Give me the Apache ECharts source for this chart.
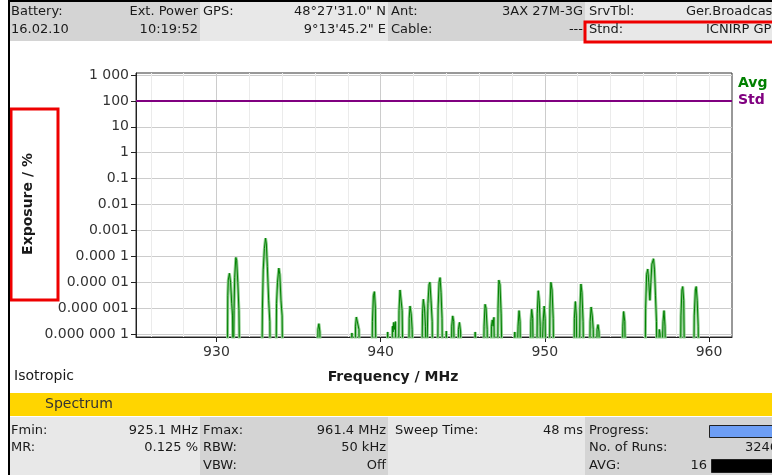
<!DOCTYPE html>
<html><head><meta charset="utf-8">
<script src="https://cdn.jsdelivr.net/npm/echarts@6/dist/echarts.min.js"></script>
<style>html,body{margin:0;padding:0;background:#fff}#c{width:772px;height:475px}</style>
</head><body><div id="c"></div>
<script>
// ---------- data ----------
const xMin = 925.1, xMax = 961.4;
const xMajorTicks = [930, 940, 950, 960];
const xMinorTicks = [926, 928, 932, 934, 936, 938, 942, 944, 946, 948, 952, 954, 956, 958, 960];
const yTickValues = [1e-7, 1e-6, 1e-5, 1e-4, 1e-3, 1e-2, 1e-1, 1, 10, 100, 1000];
const yTickLabels = ['0.000 000 1', '0.000 001', '0.000 01', '0.000 1', '0.001', '0.01', '0.1', '1', '10', '100', '1 000'];
const stdLevel = 100;
const B = 1e-9; // trace below display floor
const avgFreq = [925.1,
  930.66,930.69,930.72,930.79,930.86,930.93,930.98,931.02,931.07,931.11,931.18,931.23,931.30,931.37,931.43,
  932.76,932.80,932.85,932.92,932.99,933.04,933.10,933.18,933.25,933.29,
  933.62,933.66,933.72,933.80,933.86,933.93,934.00,934.04,
  936.15,936.18,936.24,936.30,936.33,
  938.22,938.25,938.28,
  938.44,938.47,938.52,938.60,938.68,938.71,
  939.46,939.50,939.56,939.62,939.68,939.73,
  940.40,940.43,940.46,
  940.68,940.72,940.76,940.80,940.85,940.90,940.95,
  941.08,941.12,941.18,941.24,941.31,941.37,
  941.70,941.74,941.79,941.86,941.92,941.98,
  942.50,942.55,942.60,942.67,942.73,942.78,
  942.84,942.88,942.95,943.00,943.07,943.14,943.17,
  943.46,943.50,943.56,943.62,943.68,943.74,943.78,
  943.97,944.00,944.03,
  944.30,944.33,944.39,944.45,944.51,
  944.70,944.74,944.80,944.87,944.91,
  945.73,945.76,945.79,
  946.26,946.30,946.36,946.42,946.49,946.52,
  946.71,946.75,946.80,946.85,946.90,946.95,
  947.12,947.15,947.20,947.27,947.34,947.42,
  948.14,948.17,948.24,948.27,
  948.33,948.37,948.43,948.49,948.54,
  949.12,949.15,949.20,949.26,949.32,
  949.50,949.54,949.60,949.66,949.72,949.75,
  949.86,949.90,949.96,950.02,950.07,
  950.27,950.31,950.37,950.44,950.51,950.56,
  951.77,951.80,951.86,951.92,951.97,
  952.10,952.14,952.20,952.26,952.33,952.38,
  952.72,952.76,952.82,952.89,952.95,952.99,
  953.14,953.18,953.24,953.30,953.34,
  954.71,954.75,954.80,954.87,954.93,
  956.10,956.14,956.20,956.27,956.33,956.40,956.46,956.52,956.62,956.68,956.74,956.80,956.84,
  956.93,956.97,957.02,957.08,957.15,957.20,957.26,957.32,957.37,
  958.25,958.29,958.35,958.40,958.46,958.52,
  959.06,959.10,959.17,959.22,959.28,959.34,959.38,
  961.4];
const avgExposure = [B,
  B,3e-6,1.2e-5,2.2e-5,1e-5,1.5e-6,5e-7,B,8e-7,1.5e-5,9e-5,7e-5,1e-5,8e-7,B,
  B,1e-6,3e-5,2e-4,5e-4,3e-4,4e-5,2e-6,3e-7,B,
  B,1.5e-6,1e-5,3.5e-5,2e-5,2e-6,5e-7,B,
  B,1.5e-7,2.5e-7,1.2e-7,B,
  B,1.1e-7,B,
  B,2e-7,4.5e-7,4e-7,1.5e-7,B,
  B,3e-7,3e-6,4.3e-6,1e-6,B,
  B,1.2e-7,B,
  B,2e-7,1.2e-7,2.8e-7,1.5e-7,3e-7,B,
  B,8e-7,5e-6,4.5e-6,8e-7,B,
  B,4e-7,1.2e-6,6e-7,1.5e-7,B,
  B,6e-7,2.2e-6,1e-6,2e-7,B,
  B,1.5e-6,8e-6,1e-5,2e-6,3e-7,B,
  B,1e-6,1e-5,1.5e-5,4e-6,4e-7,B,
  B,1.3e-7,B,
  B,2e-7,5e-7,3e-7,B,
  B,1.5e-7,2.8e-7,1.2e-7,B,
  B,1.2e-7,B,
  B,2e-7,1.4e-6,1e-6,1.5e-7,B,
  B,2e-7,3.5e-7,2e-7,4.4e-7,B,
  B,1e-6,1.2e-5,8e-6,6e-7,B,
  B,1.2e-7,1.1e-7,B,
  B,2e-7,8e-7,3e-7,B,
  B,3e-7,9e-7,4e-7,B,
  B,6e-7,4.7e-6,2e-6,2e-7,B,
  B,3e-7,1.2e-6,4e-7,B,
  B,1e-6,1e-5,5e-6,4e-7,B,
  B,4e-7,1.8e-6,5e-7,B,
  B,1e-6,8.5e-6,4e-6,3e-7,B,
  B,3e-7,1.1e-6,5e-7,1.5e-7,B,
  B,1.5e-7,2.3e-7,1.2e-7,B,
  B,2e-7,7.4e-7,3e-7,B,
  B,1e-6,2e-5,3.2e-5,1e-5,2e-6,1e-5,5e-5,8e-5,3e-5,3e-6,3e-7,B,
  B,1.5e-7,1e-7,B,B,3e-7,8e-7,2e-7,B,
  B,5e-7,5e-6,6.8e-6,2e-6,B,
  B,5e-7,5e-6,6.8e-6,2e-6,2e-7,B,
  B];

// ---------- chart ----------
const FONT = '"DejaVu Sans", Tahoma, sans-serif';
const avgData = avgFreq.map((f, i) => [f, avgExposure[i]]);
const stdData = [[xMin, stdLevel], [xMax, stdLevel]];

function T(x, y, text, o) {
  o = o || {};
  return { type: 'text', x: x, y: y, rotation: o.rot || 0, z: 100,
    style: { text: text, fill: o.fill || '#1a1a1a', fontFamily: FONT, fontSize: o.size || 13,
      fontWeight: o.bold ? 'bold' : 'normal', align: o.align || 'left', verticalAlign: 'middle' } };
}
function R(x, y, w, h, fill, stroke, lw) {
  return { type: 'rect', z: 50, shape: { x: x, y: y, width: w, height: h },
    style: { fill: fill || 'none', stroke: stroke || null, lineWidth: lw || 0 } };
}

const graphics = [
  // header cells
  R(8, 1, 192, 40, '#d4d4d4'), R(200, 1, 188, 40, '#e8e8e8'),
  R(388, 1, 197, 40, '#d4d4d4'), R(585, 1, 187, 40, '#e8e8e8'),
  { type: 'line', z: 60, shape: { x1: 8, y1: 1, x2: 772, y2: 1 }, style: { stroke: '#000', lineWidth: 2 } },
  { type: 'line', z: 60, shape: { x1: 9, y1: 0, x2: 9, y2: 475 }, style: { stroke: '#000', lineWidth: 2 } },
  T(11, 12, 'Battery:'), T(198, 12, 'Ext. Power', { align: 'right' }),
  T(11, 30, '16.02.10'), T(198, 30, '10:19:52', { align: 'right' }),
  T(203, 12, 'GPS:'), T(386, 12, '48°27\'31.0" N', { align: 'right' }),
  T(386, 30, '9°13\'45.2" E', { align: 'right' }),
  T(391, 12, 'Ant:'), T(583, 12, '3AX 27M-3G', { align: 'right' }),
  T(391, 30, 'Cable:'), T(583, 30, '---', { align: 'right' }),
  T(589, 12, 'SrvTbl:'), T(686, 12, 'Ger.Broadcast'),
  T(589, 30, 'Stnd:'), T(706, 30, 'ICNIRP GP'),
  R(585, 22, 192, 20, null, '#ee0000', 3),
  // y label box
  R(11, 109, 47, 191, null, '#ee0000', 3),
  T(28, 204, 'Exposure / %', { bold: true, size: 14, rot: Math.PI / 2, align: 'center' }),
  // bottom texts
  T(14, 376, 'Isotropic', { size: 14 }),
  T(393, 377, 'Frequency / MHz', { bold: true, size: 14, align: 'center' }),
  R(8, 393, 764, 23, '#ffd500'),
  T(45, 404, 'Spectrum', { size: 14, fill: '#333' }),
  R(8, 417, 192, 58, '#e8e8e8'), R(200, 417, 188, 58, '#d4d4d4'),
  R(388, 417, 197, 58, '#e8e8e8'), R(585, 417, 187, 58, '#d4d4d4'),
  T(11, 431, 'Fmin:'), T(198, 431, '925.1 MHz', { align: 'right' }),
  T(11, 448, 'MR:'), T(198, 448, '0.125 %', { align: 'right' }),
  T(203, 431, 'Fmax:'), T(386, 431, '961.4 MHz', { align: 'right' }),
  T(203, 448, 'RBW:'), T(386, 448, '50 kHz', { align: 'right' }),
  T(203, 466, 'VBW:'), T(386, 466, 'Off', { align: 'right' }),
  T(395, 431, 'Sweep Time:'), T(583, 431, '48 ms', { align: 'right' }),
  T(589, 431, 'Progress:'), T(589, 448, 'No. of Runs:'), T(778, 448, '3246', { align: 'right' }),
  T(589, 466, 'AVG:'), T(707, 466, '16', { align: 'right' }),
  R(709.5, 425.5, 70, 12, '#6d9ef5', '#222', 1),
  R(711.5, 459.5, 70, 13, '#000', '#222', 1)
];

const chart = echarts.init(document.getElementById('c'), null, { renderer: 'canvas' });
chart.setOption({
  animation: false,
  backgroundColor: '#fff',
  grid: { left: 136, top: 73, width: 596, height: 264, show: true, borderColor: '#333', borderWidth: 1, backgroundColor: 'transparent' },
  legend: {
    left: 733, top: 76, orient: 'vertical', icon: 'none', itemWidth: 0, itemHeight: 10, itemGap: 3, padding: 0,
    selectedMode: false,
    textStyle: { fontFamily: FONT, fontSize: 14, fontWeight: 'bold' },
    data: [{ name: 'Avg', textStyle: { color: '#008000' } }, { name: 'Std', textStyle: { color: '#800080' } }]
  },
  xAxis: [{
    type: 'value', min: xMin, max: xMax,
    axisLine: { lineStyle: { color: '#222' } },
    axisTick: { show: true, length: 5, customValues: xMajorTicks, lineStyle: { color: '#222' } },
    axisLabel: { customValues: xMajorTicks, fontFamily: FONT, fontSize: 14, color: '#333', margin: 8 },
    splitLine: { show: true, lineStyle: { color: '#cccccc', width: 1 } }
  }, {
    type: 'value', min: xMin, max: xMax, position: 'bottom',
    axisLine: { show: false }, axisLabel: { show: false },
    axisTick: { show: false, customValues: xMinorTicks },
    splitLine: { show: true, lineStyle: { color: '#ebebeb', width: 1 } }
  }],
  yAxis: {
    type: 'log', logBase: 10, min: 7.66e-8, max: 1194,
    axisLine: { show: true, lineStyle: { color: '#222' } },
    axisTick: { show: true, length: 5, customValues: yTickValues, lineStyle: { color: '#222' } },
    axisLabel: {
      customValues: yTickValues, fontFamily: FONT, fontSize: 14, color: '#333', margin: 7,
      formatter: function (v) { return yTickLabels[Math.round(Math.log10(v)) + 7]; }
    },
    splitLine: { show: true, lineStyle: { color: '#cccccc', width: 1 } },
    minorSplitLine: { show: false }
  },
  series: [
    { name: 'AvgGlow', type: 'line', data: avgData, symbol: 'none', clip: true, silent: true,
      lineStyle: { color: '#8fcc8f', width: 3 }, z: 2 },
    { name: 'Avg', type: 'line', data: avgData, symbol: 'none', clip: true,
      lineStyle: { color: '#008000', width: 1 }, itemStyle: { color: '#008000' }, z: 3 },
    { name: 'Std', type: 'line', data: stdData, symbol: 'none', clip: true,
      lineStyle: { color: '#800080', width: 2 }, itemStyle: { color: '#800080' }, z: 4 }
  ],
  graphic: graphics
});
</script></body></html>
